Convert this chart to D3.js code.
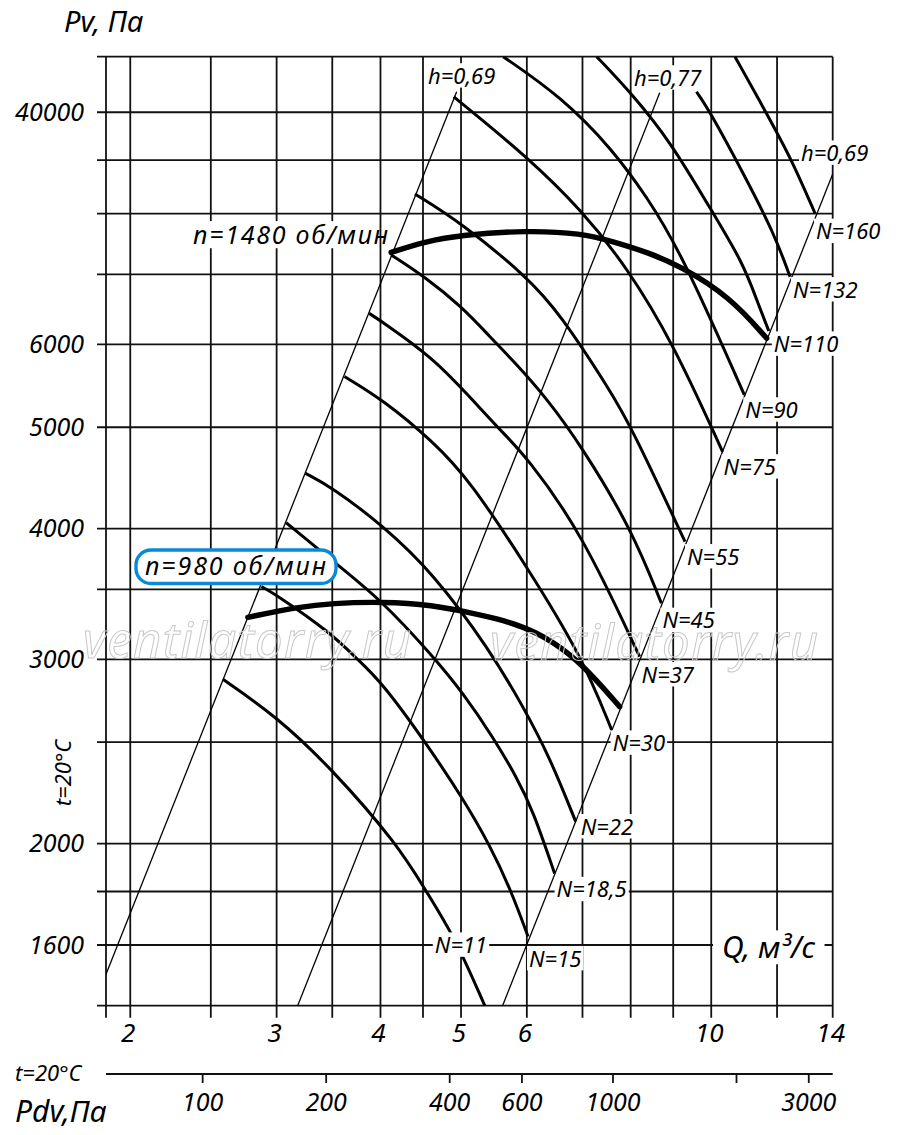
<!DOCTYPE html>
<html>
<head>
<meta charset="utf-8">
<script src="https://cdn.jsdelivr.net/npm/d3@7"></script>
<style>
    body { margin: 0; background: #fff; }
    svg { display: block; }
    text { font-family: "Noto Sans", "DejaVu Sans", sans-serif; font-style: italic; fill: #000; }
</style>
</head>
<body>
<svg id="chart" width="900" height="1135"></svg>
<script>

// grid and ticks
var qGrid = [1.87, 2, 2.5, 3, 3.5, 4, 4.5, 5, 6, 7, 8, 9, 10, 12, 14];
var pGrid = [1400, 1600, 1800, 2000, 2500, 3000, 3500, 4000, 5000, 6000, 7000, 8000, 9000, 10000, 11300];
var qTicks = [2, 3, 4, 5, 6, 10, 14];
var pTicks = [1600, 2000, 3000, 4000, 5000, 6000, 10000];
var pTickLabels = ['1600', '2000', '3000', '4000', '5000', '6000', '40000'];
var pdvTicks = [100, 200, 400, 600, 1000, 2000, 3000];
var pdvTickLabels = ['100', '200', '400', '600', '1000', '', '3000'];

// efficiency lines  [Q, P]
var hNames = ['h=0,69', 'h=0,77', 'h=0,69'];
var hLines = [
    [[1.87, 1500], [4.94, 10460]],
    [[3.18, 1400], [8.67, 10436]],
    [[5.61, 1400], [14, 8728]]
];

// power lines  [Q, P]
var nNames = ['N=11', 'N=15', 'N=18,5', 'N=22', 'N=30', 'N=37', 'N=45', 'N=55', 'N=75', 'N=90', 'N=110', 'N=132', 'N=160'];
var nCurves = [
    [[2.585, 2871], [3.0, 2645], [3.49, 2361], [4.2, 1994], [4.54, 1800], [4.91, 1630], [5.34, 1400]],
    [[2.876, 3521], [3.0, 3457], [3.49, 3178], [3.74, 3007], [4.01, 2856], [4.54, 2494], [5.01, 2218], [5.415, 1994], [5.75, 1800], [6.02, 1630]],
    [[3.08, 4052], [3.49, 3734], [4.01, 3419], [4.63, 3018], [5.03, 2784], [5.46, 2530], [5.83, 2317], [6.1, 2153], [6.48, 1873]],
    [[3.25, 4517], [3.49, 4386], [4.02, 4032], [4.63, 3626], [5.415, 3063], [5.94, 2703], [6.39, 2421], [6.87, 2099]],
    [[3.62, 5590], [4.03, 5309], [4.63, 4843], [5.12, 4451], [6.0, 3679], [6.99, 3018], [7.59, 2568]],
    [[3.875, 6425], [3.99, 6331], [4.63, 5824], [5.12, 5347], [5.57, 4969], [6.0, 4685], [6.99, 3959], [8.2, 3018]],
    [[4.12, 7305], [4.52, 6964], [5.01, 6519], [5.415, 6103], [5.78, 5786], [6.34, 5330], [6.99, 4789], [8.03, 3988], [8.71, 3394]],
    [[4.4, 8354], [5.01, 7833], [6.0, 6964], [6.57, 6425], [7.55, 5428], [8.03, 4988], [9.3, 3887]],
    [[4.9, 10346], [5.01, 10198], [6.0, 9068], [6.98, 8065], [7.91, 7119], [9.0, 6015], [10.32, 4737]],
    [[5.62, 11300], [6.6, 10346], [7.62, 9202], [8.36, 8305], [9.17, 7386], [10.96, 5369]],
    [[7.28, 11300], [8.02, 10424], [8.96, 9338], [9.94, 8124], [10.93, 7172], [11.34, 6616], [11.73, 6179]],
    [[9.6, 10461], [9.94, 10049], [10.93, 8743], [11.9, 7662], [12.44, 6964]],
    [[10.68, 11300], [11.9, 9686], [12.55, 8937], [13.33, 8007]]
];

// fan curves  [Q, P]
var speedNames = ['n=1480 об/мин', 'n=980 об/мин'];
var speedCurves = [
    [[4.12, 7346], [4.52, 7522], [5.01, 7634], [6.0, 7710], [6.98, 7662], [7.62, 7522], [8.44, 7333], [9.17, 7130], [10.53, 6664], [11.66, 6081]],
    [[2.77, 3291], [3.2, 3369], [3.49, 3394], [4.02, 3406], [4.63, 3381], [5.12, 3325], [5.62, 3272], [6.16, 3189], [6.76, 3041], [7.28, 2866], [7.76, 2703]]
];


(function () {

    var svg = d3.select('#chart');

    var left = 106, right = 832.7, top = 56.7, bottom = 1005.7;

    var x = d3.scaleLog().domain([1.87, 14]).range([left, right]);
    var y = d3.scaleLog().domain([1400, 11300]).range([bottom, top]);
    var pdv = d3.scaleLog().domain([58.3, 3441]).range([left, right]);

    // points were traced by hand, so smooth them a bit
    var line = d3.line()
        .x(function (d) { return x(d[0]); })
        .y(function (d) { return y(d[1]); })
        .curve(d3.curveBasis);

    svg.append('defs').append('clipPath').attr('id', 'plot')
        .append('rect')
        .attr('x', left).attr('y', top)
        .attr('width', right - left).attr('height', bottom - top);

    // grid
    var grid = svg.append('g').attr('stroke', '#111').attr('stroke-width', 1.8);
    grid.selectAll('.v')
        .data(qGrid).enter()
        .append('line')
        .attr('x1', function (d) { return x(d); })
        .attr('x2', function (d) { return x(d); })
        .attr('y1', top)
        .attr('y2', bottom + 12);
    grid.selectAll('.h')
        .data(pGrid).enter()
        .append('line')
        .attr('x1', left - 9)
        .attr('x2', right)
        .attr('y1', function (d) { return y(d); })
        .attr('y2', function (d) { return y(d); });

    var plot = svg.append('g').attr('clip-path', 'url(#plot)');

    // efficiency lines
    plot.selectAll('.hline')
        .data(hLines).enter()
        .append('path')
        .attr('d', d3.line().x(function (d) { return x(d[0]); }).y(function (d) { return y(d[1]); }))
        .attr('fill', 'none')
        .attr('stroke', '#000')
        .attr('stroke-width', 1.3);

    plot.selectAll('.ncurve')
        .data(nCurves).enter()
        .append('path')
        .attr('d', line)
        .attr('fill', 'none')
        .attr('stroke', '#000')
        .attr('stroke-width', 3);

    plot.selectAll('.speed')
        .data(speedCurves).enter()
        .append('path')
        .attr('d', line)
        .attr('fill', 'none')
        .attr('stroke', '#000')
        .attr('stroke-width', 5.4)
        .attr('stroke-linecap', 'round');

    // text with a white patch behind it
    function label(txt, px, py, size, anchor, padX, padY) {
        var g = svg.append('g');
        var t = g.append('text')
            .attr('x', px).attr('y', py)
            .attr('font-size', size)
            .attr('text-anchor', anchor || 'start')
            .text(txt);
        var b = t.node().getBBox();
        g.insert('rect', 'text')
            .attr('x', b.x - padX)
            .attr('y', b.y + b.height * 0.18 - padY)
            .attr('width', b.width + 2 * padX)
            .attr('height', b.height * 0.68 + 2 * padY)
            .attr('fill', '#fff');
        return t;
    }

    // N labels, offsets from the end of each curve
    var nOffsets = [null, [1, 30], [2, 24], [5, 13], [1, 21], [2, 26], [1, 25], [2, 23], [1, 23], [1, 23], [5, 21], [3, 21], [1, 26]];
    nCurves.forEach(function (c, i) {
        if (i === 0) {
            label(nNames[i], x(5), y(1600) + 8, 22, 'middle', 2, 2);
            return;
        }
        var e = c[c.length - 1];
        label(nNames[i], x(e[0]) + nOffsets[i][0], y(e[1]) + nOffsets[i][1], 22, 'start', 2, 2);
    });

    // h labels at the top of the lines
    var hOffsets = [[5, -8], [8, -7], [2, -13]];
    hLines.forEach(function (l, i) {
        var e = l[1];
        label(hNames[i], x(e[0]) + hOffsets[i][0], y(e[1]) + hOffsets[i][1], 22, 'middle', 2, 2);
    });

    // fan speed labels
    label(speedNames[0], 193, 244, 25, 'start', 2, 2).attr('textLength', 195);

    svg.append('rect')
        .attr('x', 136).attr('y', 550)
        .attr('width', 200).attr('height', 33.5)
        .attr('rx', 15)
        .attr('fill', '#fff')
        .attr('stroke', '#0a8ad6')
        .attr('stroke-width', 3.4);
    svg.append('text')
        .attr('x', 145).attr('y', 575)
        .attr('font-size', 25)
        .attr('textLength', 181)
        .text(speedNames[1]);

    // y tick labels
    svg.selectAll('.ylab')
        .data(pTicks).enter()
        .append('text')
        .attr('x', 84)
        .attr('y', function (d) { return y(d) + 8.5; })
        .attr('text-anchor', 'end')
        .attr('font-size', 25)
        .text(function (d, i) { return pTickLabels[i]; });

    // x tick labels
    svg.selectAll('.xlab')
        .data(qTicks).enter()
        .append('text')
        .attr('x', function (d) { return x(d) - 2; })
        .attr('y', 1042)
        .attr('text-anchor', 'middle')
        .attr('font-size', 26)
        .text(function (d) { return d; });

    // dynamic pressure axis
    var pdvAxis = svg.append('g')
        .attr('transform', 'translate(0,1074)')
        .call(d3.axisBottom(pdv)
            .tickValues(pdvTicks)
            .tickSize(9)
            .tickSizeOuter(0)
            .tickPadding(10)
            .tickFormat(function (d, i) { return pdvTickLabels[i]; }));
    pdvAxis.attr('font-size', 25).attr('font-family', null);
    pdvAxis.selectAll('path, line').attr('stroke', '#111').attr('stroke-width', 1.8);
    pdvAxis.select('.domain').attr('d', 'M' + left + ',0H' + right);

    // titles
    svg.append('text').attr('x', 64).attr('y', 32).attr('font-size', 29).text('Pv, Па');
    svg.append('text').attr('x', 15).attr('y', 1122).attr('font-size', 30).text('Pdv,Па');
    svg.append('text').attr('x', 15).attr('y', 1081).attr('font-size', 22).text('t=20°C');
    svg.append('text')
        .attr('transform', 'translate(71,773) rotate(-90)')
        .attr('text-anchor', 'middle')
        .attr('font-size', 22)
        .text('t=20°C');
    label('Q, м³/с', 722, 958, 30, 'start', 9, 3);

    // watermark
    [[83, 658], [490, 660]].forEach(function (p) {
        svg.append('text')
            .attr('x', p[0]).attr('y', p[1])
            .attr('font-size', 49)
            .attr('textLength', 328)
            .style('fill', 'none')
            .attr('stroke', '#c8c8c8')
            .attr('stroke-width', 1)
            .text('ventilatorry.ru');
    });

})();
</script>
</body>
</html>
